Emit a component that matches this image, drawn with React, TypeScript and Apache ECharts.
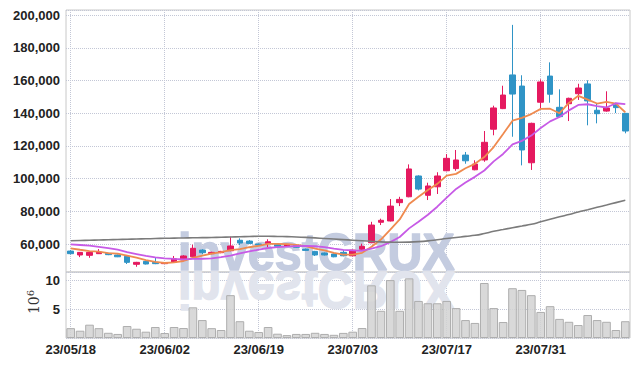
import React, { useEffect, useRef } from 'react';
import * as echarts from 'echarts';

const dates = [
  '23/05/18', '23/05/19', '23/05/22', '23/05/23', '23/05/24', '23/05/25', '23/05/26', '23/05/30', '23/05/31', '23/06/01',
  '23/06/02', '23/06/05', '23/06/07', '23/06/08', '23/06/09', '23/06/12', '23/06/13', '23/06/14', '23/06/15', '23/06/16',
  '23/06/19', '23/06/20', '23/06/21', '23/06/22', '23/06/23', '23/06/26', '23/06/27', '23/06/28', '23/06/29', '23/06/30',
  '23/07/03', '23/07/04', '23/07/05', '23/07/06', '23/07/07', '23/07/10', '23/07/11', '23/07/12', '23/07/13', '23/07/14',
  '23/07/17', '23/07/18', '23/07/19', '23/07/20', '23/07/21', '23/07/24', '23/07/25', '23/07/26', '23/07/27', '23/07/28',
  '23/07/31', '23/08/01', '23/08/02', '23/08/03', '23/08/04', '23/08/07', '23/08/08', '23/08/09', '23/08/10', '23/08/11',
];

const opens = [
  55700, 53300, 53100, 54100, 54300, 53300, 52500, 47600, 49400, 48800,
  48000, 48800, 50400, 52200, 56300, 54100, 54700, 55900, 62300, 61800,
  60000, 60400, 59600, 58800, 59200, 56900, 55500, 54500, 53900, 54900,
  52800, 56800, 60800, 73300, 74100, 85300, 88900, 101600, 89800, 95000,
  104800, 106100, 114400, 105400, 111400, 130200, 142800, 163400, 156600, 109700,
  146700, 162700, 143600, 145800, 151900, 157900, 141800, 141300, 145000, 139900,
];
const closes = [
  54100, 54900, 54900, 55100, 53500, 52200, 48800, 48800, 47800, 48000,
  48600, 51000, 52700, 57400, 54700, 54900, 55500, 58800, 60600, 60400,
  59400, 61400, 58600, 59800, 58000, 56100, 53300, 53300, 52200, 52800,
  56300, 58600, 71600, 74500, 83200, 87300, 105900, 93600, 95500, 101600,
  112400, 111400, 110900, 108900, 122200, 143200, 151100, 151700, 117500, 133800,
  159100, 151600, 137900, 149100, 155400, 147500, 139700, 143200, 143400, 129100,
];
const lows = [
  53600, 52000, 51600, 53900, 53200, 52000, 47800, 46100, 47500, 47700,
  47800, 48500, 50000, 51900, 53700, 53800, 54400, 55600, 59400, 60000,
  59200, 58000, 58400, 58500, 57800, 55900, 52700, 53000, 51900, 52500,
  52500, 56300, 60500, 71600, 73800, 83200, 88600, 92800, 86900, 90600,
  104500, 104800, 109100, 105100, 110300, 126500, 142500, 125600, 108100, 105300,
  143000, 146400, 137500, 135200, 148100, 132600, 133800, 140900, 140100, 127700,
];
const highs = [
  56300, 55100, 55000, 56900, 54600, 53600, 52800, 49100, 49800, 51600,
  48900, 52700, 53200, 59600, 56800, 55300, 55800, 64500, 63500, 62400,
  60300, 62900, 60000, 60100, 59500, 57200, 55800, 54800, 54200, 56300,
  56600, 60200, 73600, 75500, 87500, 88900, 108700, 102000, 97500, 103900,
  115000, 117500, 116300, 111200, 129100, 144600, 156800, 194000, 163200, 134200,
  160700, 171100, 154600, 149500, 158000, 160100, 145600, 153400, 146400, 140200,
];

const ma5 = [
  57400, 56500, 55700, 55300, 54500, 54120, 52900, 51680, 50220, 49120,
  48400, 48840, 49620, 51540, 52880, 54140, 55040, 56260, 56900, 58040,
  58940, 60120, 60080, 59920, 59440, 58780, 57160, 56100, 54580, 53540,
  53580, 54640, 58300, 62760, 68840, 75040, 84500, 88900, 93100, 96780,
  101800, 102900, 106360, 109040, 113160, 119320, 127260, 135420, 137140, 139460,
  142640, 142740, 139980, 146300, 150620, 148300, 145920, 146980, 145840, 140580,
];
const ma10 = [
  59800, 59400, 59000, 58300, 57500, 56600, 55100, 53900, 52700, 51810,
  51260, 50870, 50650, 50880, 51000, 51270, 51940, 52940, 54220, 55460,
  56540, 57580, 58170, 58410, 58740, 58860, 58640, 58090, 57250, 56490,
  56180, 55900, 57200, 58670, 61190, 64310, 69570, 73600, 77930, 82810,
  88420, 93700, 97630, 101070, 104970, 110560, 115080, 120890, 123090, 126310,
  130980, 135000, 137700, 141720, 145040, 145470, 144330, 143480, 146070, 145600,
];
const maLong = [
  62000, 62150, 62300, 62450, 62600, 62750, 62900, 63050, 63200, 63350,
  63500, 63600, 63700, 63800, 63900, 64000, 64150, 64300, 64450, 64600,
  64750, 64750, 64650, 64500, 64300, 64050, 63750, 63400, 63050, 62700,
  62350, 62000, 61650, 61350, 61150, 61050, 61150, 61450, 61950, 62650,
  63360, 63980, 64710, 65320, 66420, 67770, 68870, 69970, 71010, 72050,
  73580, 75110, 76640, 78040, 79570, 80980, 82450, 83850, 85320, 86730,
];

// volume in millions of shares
const volumes = [
  1.7, 1.26, 2.3, 1.7, 0.9, 0.7, 2.07, 1.6, 1.09, 1.9,
  0.86, 1.9, 1.72, 5.3, 3.1, 1.7, 1.38, 7.4, 2.9, 1.26,
  1.03, 1.9, 0.74, 0.5, 0.7, 0.7, 0.9, 0.7, 0.55, 0.88,
  1.09, 1.72, 9.1, 4.7, 10.0, 4.7, 10.3, 6.4, 6.0, 6.0,
  6.4, 5.17, 3.1, 2.6, 9.5, 5.17, 2.76, 8.6, 8.3, 7.4,
  4.5, 5.5, 3.3, 2.8, 2.24, 3.97, 3.1, 2.8, 1.38, 2.9,
];

const UP = '#e5195f';
const DOWN = '#2f94c6';
const GRID_DOT = '#c3c7d6';
const LABEL_FONT = '"Liberation Sans", Arial, sans-serif';

export default function App() {
  const ref = useRef<HTMLDivElement>(null);

  useEffect(() => {
    document.body.style.margin = '0';
    if (!ref.current) return;
    const chart = echarts.init(ref.current, undefined, { renderer: 'svg' });

    const candleData = dates.map((_, i) => [opens[i], closes[i], lows[i], highs[i]]);

    const labelStyle = {
      color: '#222',
      fontFamily: LABEL_FONT,
      fontWeight: 'bold' as const,
      fontSize: 13,
    };

    const option: any = {
      animation: false,
      backgroundColor: '#fff',
      grid: [
        { left: 66, right: 9, top: 10, height: 262, show: true, borderColor: '#c8c8c8', borderWidth: 1 },
        { left: 66, right: 9, top: 272, height: 66, show: true, borderColor: '#c8c8c8', borderWidth: 1 },
      ],
      graphic: [
        {
          type: 'text',
          x: 178,
          y: 252,
          z: 1,
          scaleX: 0.93,
          style: {
            text: 'investCRUX',
            fontSize: 52,
            fontWeight: 'bold',
            fontFamily: '"Liberation Sans", Arial, sans-serif',
            fill: '#c4cce0',
            stroke: '#c4cce0',
            lineWidth: 1.5,
            align: 'left',
            verticalAlign: 'middle',
          },
        },
        {
          type: 'text',
          x: 178,
          y: 290,
          z: 1,
          scaleX: 0.93,
          scaleY: -1,
          style: {
            text: 'investCRUX',
            fontSize: 52,
            fontWeight: 'bold',
            fontFamily: '"Liberation Sans", Arial, sans-serif',
            fill: '#e1e4ed',
            stroke: '#e1e4ed',
            lineWidth: 1.5,
            align: 'left',
            verticalAlign: 'middle',
          },
        },
        {
          type: 'text',
          x: 33,
          y: 302,
          rotation: Math.PI / 2,
          style: {
            text: '{b|10}{s|6}',
            align: 'center',
            verticalAlign: 'middle',
            fill: '#333',
            rich: {
              b: { fontSize: 14, fontFamily: '"DejaVu Serif", "Liberation Serif", serif', fill: '#333', lineHeight: 16, verticalAlign: 'bottom' },
              s: { fontSize: 10, fontFamily: '"DejaVu Serif", "Liberation Serif", serif', fill: '#333', lineHeight: 16, verticalAlign: 'top', padding: [0, 0, 6, 0] },
            },
          },
        },
      ],
      xAxis: [
        {
          type: 'category',
          gridIndex: 0,
          data: dates,
          boundaryGap: true,
          axisLine: { show: false },
          axisTick: { show: false },
          axisLabel: { show: false, interval: 9 },
          splitLine: { show: true, interval: 9, alignWithLabel: true, lineStyle: { color: GRID_DOT, type: 'dotted', width: 1 } },
        },
        {
          type: 'category',
          gridIndex: 1,
          data: dates,
          boundaryGap: true,
          axisLine: { show: false },
          axisTick: { show: false, interval: 9, alignWithLabel: true },
          axisLabel: { ...labelStyle, interval: 9, margin: 5 },
          splitLine: { show: true, interval: 9, alignWithLabel: true, lineStyle: { color: GRID_DOT, type: 'dotted', width: 1 } },
        },
      ],
      yAxis: [
        {
          type: 'value',
          gridIndex: 0,
          min: 42900,
          max: 203100,
          splitNumber: 8,
          axisLine: { show: false },
          axisTick: { show: false },
          axisLabel: {
            ...labelStyle,
            margin: 6,
            showMinLabel: false,
            showMaxLabel: false,
            formatter: (v: number) => (v % 20000 === 0 ? v.toLocaleString('en-US') : ''),
          },
          splitLine: { show: true, lineStyle: { color: GRID_DOT, type: 'dotted', width: 1 } },
        },
        {
          type: 'value',
          gridIndex: 1,
          min: 0,
          max: 11.4,
          interval: 5,
          axisLine: { show: false },
          axisTick: { show: false },
          axisLabel: {
            ...labelStyle,
            margin: 6,
            showMinLabel: false,
            showMaxLabel: false,
            formatter: (v: number) => (v > 0 && v % 5 === 0 ? String(v) : ''),
          },
          splitLine: { show: true, lineStyle: { color: GRID_DOT, type: 'dotted', width: 1 } },
        },
      ],
      series: [
        {
          type: 'candlestick',
          name: 'Price',
          xAxisIndex: 0,
          yAxisIndex: 0,
          data: candleData,
          barWidth: 6,
          itemStyle: { color: UP, color0: DOWN, borderColor: UP, borderColor0: DOWN, borderWidth: 1 },
        },
        {
          type: 'line',
          name: 'MA5',
          xAxisIndex: 0,
          yAxisIndex: 0,
          data: ma5,
          showSymbol: false,
          symbol: 'none',
          lineStyle: { color: '#ef8a4f', width: 1.8 },
        },
        {
          type: 'line',
          name: 'MA10',
          xAxisIndex: 0,
          yAxisIndex: 0,
          data: ma10,
          showSymbol: false,
          symbol: 'none',
          lineStyle: { color: '#c75ae6', width: 1.8 },
        },
        {
          type: 'line',
          name: 'MA',
          xAxisIndex: 0,
          yAxisIndex: 0,
          data: maLong,
          showSymbol: false,
          symbol: 'none',
          smooth: true,
          lineStyle: { color: '#7b7b7b', width: 1.6 },
        },
        {
          type: 'bar',
          name: 'Volume',
          xAxisIndex: 1,
          yAxisIndex: 1,
          data: volumes,
          barCategoryGap: '8%',
          itemStyle: { color: 'rgba(210,210,210,0.85)', borderColor: '#aeaeae', borderWidth: 1 },
        },
      ],
    };

    chart.setOption(option);
    return () => chart.dispose();
  }, []);

  return <div ref={ref} style={{ width: 639, height: 366 }} />;
}
